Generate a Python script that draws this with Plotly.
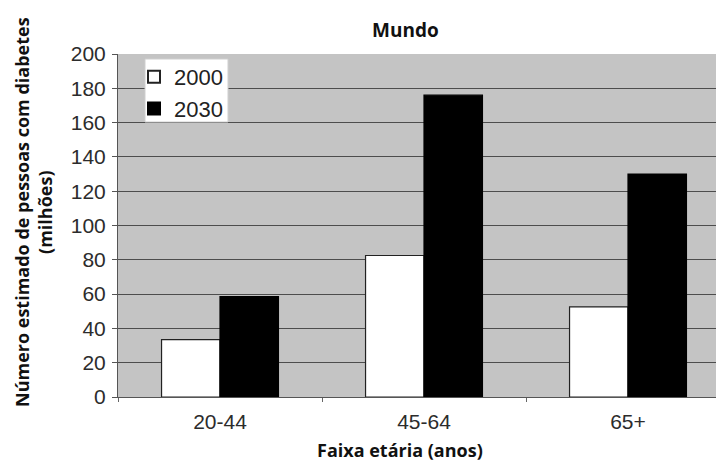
import plotly.graph_objects as go

# Faixas etárias e estimativas (milhões de pessoas com diabetes)
faixas = ["20-44", "45-64", "65+"]
anos = ["2000", "2030"]
valores_2000 = [33.5, 82.5, 52.5]
valores_2030 = [58.5, 176, 130]
y_ticks = [0, 20, 40, 60, 80, 100, 120, 140, 160, 180, 200]

W, H = 716, 462
ml, mt, mb, mr = 118, 54, 65, 0
plot_w = W - ml - mr
plot_h = H - mt - mb
band = 204  # largura de cada categoria em px


def px_x(px):
    return (px - ml) / plot_w


def px_y(py):
    return 1 - (py - mt) / plot_h


fig = go.Figure()
fig.add_trace(go.Bar(
    x=faixas, y=valores_2000, name=anos[0],
    marker=dict(color="white", line=dict(color="#222222", width=1.2)),
))
fig.add_trace(go.Bar(
    x=faixas, y=valores_2030, name=anos[1],
    marker=dict(color="black", line=dict(color="black", width=1.2)),
))

axis_font = dict(family="Arial, Liberation Sans, sans-serif", size=21, color="#2c2c2c")

fig.update_layout(
    width=W, height=H,
    margin=dict(l=ml, r=mr, t=mt, b=mb),
    paper_bgcolor="white",
    plot_bgcolor="#c4c4c4",
    barmode="group",
    bargap=0.427,
    bargroupgap=0,
    showlegend=True,
    legend=dict(
        x=px_x(134), y=px_y(56), xanchor="left", yanchor="top",
        bgcolor="rgba(0,0,0,0)", borderwidth=0,
        font=dict(family="Arial, Liberation Sans, sans-serif", size=22, color="#222222"),
        itemsizing="constant", tracegroupgap=0, itemwidth=30,
    ),
    xaxis=dict(
        type="category",
        range=[-0.5, -0.5 + plot_w / band],
        tickfont=axis_font,
        ticks="outside", tickson="boundaries", ticklen=4,
        tickcolor="#666666",
        ticklabelstandoff=6,
        showline=True, linecolor="#555555", linewidth=1,
        showgrid=False,
    ),
    yaxis=dict(
        range=[0, 200],
        tickvals=y_ticks,
        tickfont=axis_font,
        ticks="outside", ticklen=5, tickcolor="#555555",
        ticklabelstandoff=2,
        showline=True, linecolor="#555555", linewidth=1,
        showgrid=True, gridcolor="#4d4d4d", gridwidth=1,
        zeroline=False,
    ),
)

# caixa branca da legenda
fig.add_shape(
    type="rect", xref="paper", yref="paper", layer="above",
    x0=px_x(145), x1=px_x(228), y0=px_y(122), y1=px_y(59),
    fillcolor="white", line=dict(color="#cfcfcf", width=1),
)

title_font = dict(family="Open Sans, Noto Sans, sans-serif", size=18, color="#111111")

fig.add_annotation(
    text="<b>Mundo</b>", xref="paper", yref="paper",
    x=px_x(405), y=px_y(30),
    xanchor="center", yanchor="middle", showarrow=False,
    font=dict(family="Open Sans, Noto Sans, sans-serif", size=19, color="#111111"),
)
fig.add_annotation(
    text="<b>Faixa etária (anos)</b>", xref="paper", yref="paper",
    x=px_x(400), y=px_y(450),
    xanchor="center", yanchor="middle", showarrow=False,
    font=title_font,
)
fig.add_annotation(
    text="<b>Número estimado de pessoas com diabetes</b><br><b>(milhões)</b>",
    xref="paper", yref="paper",
    x=px_x(33), y=px_y(212),
    xanchor="center", yanchor="middle", showarrow=False,
    textangle=-90,
    font=title_font,
)

fig.write_html("out.html")
